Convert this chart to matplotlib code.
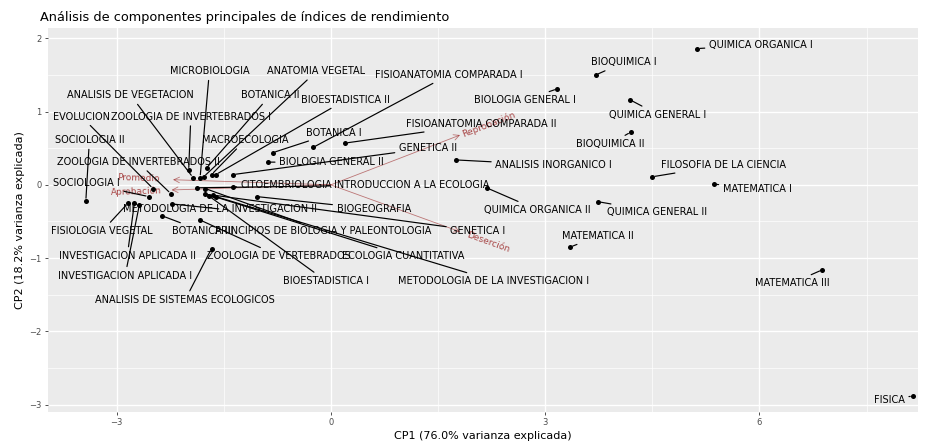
import numpy as np
import matplotlib
matplotlib.use("Agg")
import matplotlib.pyplot as plt

plt.rcParams.update({'font.family': 'DejaVu Sans'})

# puntuaciones de cada asignatura sobre CP1 / CP2
materias = ["QUIMICA ORGANICA I", "BIOQUIMICA I", "BIOLOGIA GENERAL I", "QUIMICA GENERAL I",
            "BIOQUIMICA II", "FILOSOFIA DE LA CIENCIA", "MATEMATICA I", "QUIMICA ORGANICA II",
            "QUIMICA GENERAL II", "MATEMATICA II", "MATEMATICA III", "FISICA",
            "ANALISIS INORGANICO I",
            "ZOOLOGIA DE INVERTEBRADOS I", "ANALISIS DE VEGETACION", "MICROBIOLOGIA",
            "ANATOMIA VEGETAL", "BOTANICA II", "MACROECOLOGIA", "BIOESTADISTICA II",
            "GENETICA II", "BIOLOGIA GENERAL II", "BOTANICA I", "FISIOANATOMIA COMPARADA I",
            "FISIOANATOMIA COMPARADA II", "EVOLUCION", "SOCIOLOGIA I",
            "ZOOLOGIA DE INVERTEBRADOS II", "SOCIOLOGIA II", "INTRODUCCION A LA ECOLOGIA",
            "PRINCIPIOS DE BIOLOGIA Y PALEONTOLOGIA", "GENETICA I", "CITOEMBRIOLOGIA",
            "BIOGEOGRAFIA", "FISIOLOGIA VEGETAL", "INVESTIGACION APLICADA II",
            "INVESTIGACION APLICADA I", "METODOLOGIA DE LA INVESTIGACION II", "BOTANICA III",
            "ZOOLOGIA DE VERTEBRADOS", "ANALISIS DE SISTEMAS ECOLOGICOS", "BIOESTADISTICA I",
            "METODOLOGIA DE LA INVESTIGACION I", "ECOLOGIA CUANTITATIVA"]

cp1 = [5.13, 3.71, 3.17, 4.19, 4.20, 4.50, 5.36, 2.18, 3.74, 3.35, 6.88, 8.15, 1.75,
       -1.99, -1.93, -1.83, -1.78, -1.74, -1.67, -1.61, -1.37, -0.88, -0.81, -0.25, 0.20,
       -2.49, -2.55, -2.24, -3.43, -1.88, -1.76, -1.65, -1.37, -1.04, -2.84, -2.75, -2.68,
       -2.23, -2.37, -1.83, -1.67, -1.71, -1.61, -1.76]
cp2 = [1.86, 1.50, 1.31, 1.16, 0.72, 0.11, 0.01, -0.04, -0.23, -0.85, -1.16, -2.88, 0.34,
       0.20, 0.10, 0.10, 0.11, 0.23, 0.14, 0.14, 0.14, 0.31, 0.44, 0.51, 0.57,
       -0.05, -0.16, -0.12, -0.22, -0.04, -0.05, -0.14, -0.03, -0.16, -0.25, -0.25, -0.27,
       -0.26, -0.42, -0.48, -0.87, -0.15, -0.16, -0.12]

# donde quedaron las etiquetas (repel), en unidades de los ejes
lab_x = [6.02, 4.10, 2.72, 4.58, 3.91, 5.50, 5.97, 2.89, 4.57, 3.74, 6.46, 7.82, 3.12,
         -1.96, -2.80, -1.70, -0.20, -0.85, -1.20, 0.21, 1.36, 0.01, 0.04, 1.65, 2.10,
         -3.49, -3.42, -2.70, -3.38, 1.13, -0.10, 2.06, -0.62, 0.60, -3.20, -2.85, -2.88,
         -1.55, -1.80, -0.73, -2.04, -0.07, 2.28, 1.01]
lab_y = [1.91, 1.67, 1.16, 0.96, 0.56, 0.27, -0.05, -0.34, -0.37, -0.70, -1.34, -2.94, 0.27,
         0.93, 1.22, 1.55, 1.55, 1.22, 0.61, 1.16, 0.50, 0.31, 0.71, 1.50, 0.83,
         0.93, 0.02, 0.31, 0.61, 0.00, -0.63, -0.63, 0.00, -0.33, -0.63, -0.97, -1.24,
         -0.33, -0.63, -0.97, -1.57, -1.31, -1.31, -0.97]

# cargas de los indices
indices = ["Promedio", "Aprobación", "Reprobación", "Deserción"]
carga1 = [-2.21, -2.23, 1.81, 1.81]
carga2 = [0.07, -0.07, 0.68, -0.64]

fig = plt.figure(figsize=(9.48, 4.48), dpi=100)
ax = fig.add_axes([0.0506, 0.0804, 0.9177, 0.857])
ax.set_facecolor('#EBEBEB')
for s in ax.spines.values():
    s.set_visible(False)

ax.set_xlim(-3.96, 8.22)
ax.set_ylim(-3.10, 2.14)
ax.set_xticks([-3, 0, 3, 6])
ax.set_yticks([-3, -2, -1, 0, 1, 2])
ax.set_xticks([-1.5, 1.5, 4.5, 7.5], minor=True)
ax.set_yticks([-2.5, -1.5, -0.5, 0.5, 1.5], minor=True)
ax.grid(which='major', color='white', lw=1.0)
ax.grid(which='minor', color='white', lw=0.5)
ax.set_axisbelow(True)
ax.tick_params(which='major', length=2.5, width=0.6, color='#333333',
               labelsize=6, labelcolor='#4D4D4D', pad=2)
ax.tick_params(which='minor', length=0)

# flechas de los indices
for nm, a, b in zip(indices, carga1, carga2):
    ax.annotate('', xy=(a, b), xytext=(0, 0),
                arrowprops=dict(arrowstyle='->', color='#8B0000', lw=0.6, alpha=0.5,
                                shrinkA=0, shrinkB=0))
fig.canvas.draw()
for nm, a, b in zip(indices, carga1, carga2):
    p0 = ax.transData.transform((0, 0))
    p1 = ax.transData.transform((a, b))
    ang = np.degrees(np.arctan2(p1[1] - p0[1], p1[0] - p0[0]))
    if a < 0:
        ang -= 180
    ax.text(a * 1.22, b * 1.22, nm, color='#8B0000', alpha=0.7, fontsize=6.5,
            rotation=ang, ha='center', va='center', rotation_mode='anchor')

# etiquetas con segmento hacia el punto
for nm, x, y, lx, ly in zip(materias, cp1, cp2, lab_x, lab_y):
    ax.annotate(nm, xy=(x, y), xytext=(lx, ly), fontsize=7, ha='center', va='center',
                color='black',
                arrowprops=dict(arrowstyle='-', color='black', lw=0.85,
                                shrinkA=1, shrinkB=2))
ax.scatter(cp1, cp2, s=13, color='black', zorder=3, linewidths=0)

ax.set_xlabel('CP1 (76.0% varianza explicada)', fontsize=8, labelpad=3)
ax.set_ylabel('CP2 (18.2% varianza explicada)', fontsize=8, labelpad=3)
fig.text(0.042, 0.962, 'Análisis de componentes principales de índices de rendimiento',
         fontsize=9.3, ha='left', va='center')

fig.savefig('out.png', dpi=100)
